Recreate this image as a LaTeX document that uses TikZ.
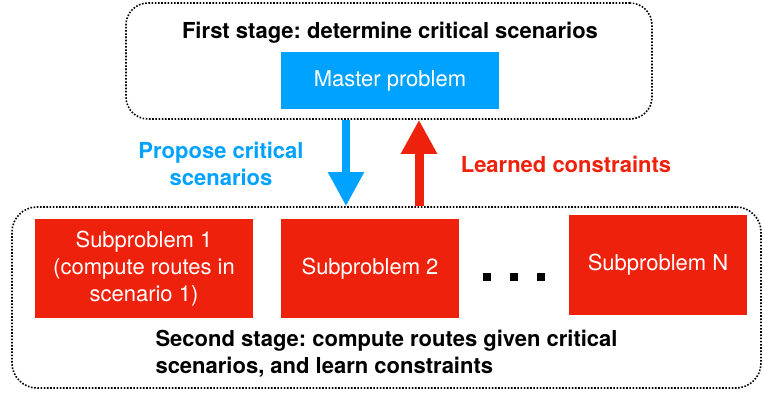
\documentclass[tikz,border=0pt]{standalone}
\usepackage{fontspec}
\setmainfont{TeX Gyre Heros}
\usetikzlibrary{arrows.meta}
\usetikzlibrary{positioning}
\definecolor{keyblue}{HTML}{00A2FF}
\definecolor{keyred}{HTML}{EE220C}
\frenchspacing
\tikzset{stagebox/.style = {draw, line width=1.6pt, dash pattern=on 1.6pt off 1.6pt,
                            rounded corners=22pt, inner sep=0pt},
         subbox/.style = {fill=keyred, text=white, align=center, inner sep=0pt,
                          minimum height=99pt},
         dotbox/.style = {fill=black, minimum size=8pt, inner sep=0pt},
         bigarrow/.style = {line width=#1, -{Triangle[width=34pt,length=34pt]}},
         txt/.style = {font=\fontsize{22}{27}\selectfont},
         boldtxt/.style = {font=\fontsize{22}{27}\selectfont\bfseries}}

\begin{document}
\begin{tikzpicture}[x=1pt, y=-1pt, txt]
    \useasboundingbox (0, 0) rectangle (764, 392);

    % first stage
    \node [stagebox, minimum width=526pt, minimum height=116pt] (stage1) at (389, 61) {};
    \node [boldtxt] (title1) at (390, 33) {First stage: determine critical scenarios};
    \node [fill=keyblue, text=white, minimum width=218pt, minimum height=57pt, inner sep=0pt]
          (master) at (390, 80.5) {Master problem};

    % second stage
    \node [stagebox, rounded corners=25pt, minimum width=749pt, minimum height=181pt] (stage2) at (386.5, 297.5) {};
    \node [subbox, minimum width=218pt] (sub1) at (144, 268.5) {Subproblem 1\\(compute routes in\\scenario 1)};
    \node [subbox, minimum width=178pt] (sub2) at (370, 268.5) {Subproblem 2};
    \node [subbox, minimum width=178pt, minimum height=100pt] (subN) at (658, 265) {Subproblem N};
    \node [dotbox] (d1) at (487, 277) {};
    \node [dotbox] (d2) at (514, 277) {};
    \node [dotbox] (d3) at (541, 277) {};
    \node [boldtxt, align=left, anchor=west]
          (title2) at (152, 354) {Second stage: compute routes given critical\\scenarios, and learn constraints};

    % between the stages
    \draw [bigarrow=8pt, keyblue] ([xshift=-43pt]stage1.south) -- ([xshift=-40.5pt]stage2.north);
    \draw [bigarrow=9pt, keyred] ([xshift=32.5pt]stage2.north) -- ([xshift=30pt]stage1.south);
    \node [boldtxt, text=keyblue, align=center]
          (propose) at (221, 164) {Propose critical\\scenarios};
    \node [boldtxt, text=keyred]
          (learned) at (566, 164) {Learned constraints};
\end{tikzpicture}
\end{document}
